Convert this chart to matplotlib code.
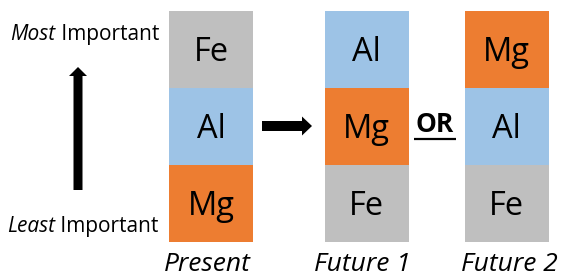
#!/usr/bin/env python3

import matplotlib.pyplot as plt
from matplotlib.patches import FancyArrow

# ===============================
# DATA
# ===============================

scenarios = ["Present", "Future 1", "Future 2"]
present = ["Fe", "Al", "Mg"]      # most -> least important
future_1 = ["Al", "Mg", "Fe"]
future_2 = ["Mg", "Al", "Fe"]
rankings = [present, future_1, future_2]

colors = {"Fe": "#BFBFBF", "Al": "#9DC3E6", "Mg": "#ED7D31"}

# ===============================
# LAYOUT (pixel coords)
# ===============================

col_x = [211, 366.5, 506.5]
label_x = [207, 362, 509]
col_w = 84
seg_h = 77
top = 11

plt.rcParams["font.family"] = ["Open Sans", "DejaVu Sans"]

fig = plt.figure(figsize=(5.63, 2.76), dpi=100)
ax = fig.add_axes([0, 0, 1, 1])
ax.set_xlim(0, 563)
ax.set_ylim(276, 0)
ax.axis("off")

for x, lx, order, name in zip(col_x, label_x, rankings, scenarios):
    for rank, elem in enumerate(order):
        y0 = top + rank * seg_h
        ax.bar(x, seg_h, bottom=y0, width=col_w, color=colors[elem],
               align="center", linewidth=0)
        ax.text(x, y0 + seg_h / 2 + 11.5, elem, fontsize=23.5,
                ha="center", va="baseline")
    ax.text(lx, 271, name, fontsize=19, style="italic",
            ha="center", va="baseline")

# importance axis labels: italic word + "Important", right aligned
fig.canvas.draw()
r = fig.canvas.get_renderer()
inv = ax.transData.inverted()
for word, xr, yb in [("Most", 159, 40), ("Least", 158, 232)]:
    t = ax.text(xr, yb, " Important", fontsize=15,
                ha="right", va="baseline")
    bb = t.get_window_extent(r)
    x0 = inv.transform((bb.x0, bb.y0))[0]
    ax.text(x0, yb, word, fontsize=15, style="italic",
            ha="right", va="baseline")

ax.add_patch(FancyArrow(78, 190, 0, -123, width=9, head_width=18,
                        head_length=9, length_includes_head=True,
                        color="black", linewidth=0))
ax.add_patch(FancyArrow(262, 126, 50, 0, width=10, head_width=19,
                        head_length=10, length_includes_head=True,
                        color="black", linewidth=0))

ax.text(435, 132, "OR", fontsize=19, fontweight="bold",
        ha="center", va="baseline")
ax.plot([414, 456], [138.5, 138.5], color="black", linewidth=1.6,
        solid_capstyle="butt")

fig.savefig("out.png", dpi=100)
